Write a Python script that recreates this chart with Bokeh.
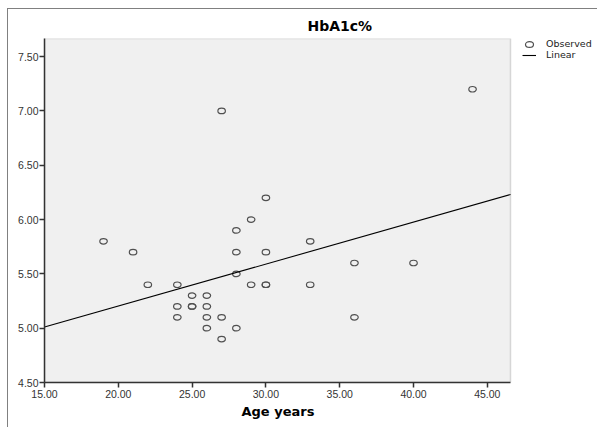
import numpy as np
from bokeh.plotting import figure
from bokeh.models import (Range1d, FixedTicker, PrintfTickFormatter, Legend, LegendItem,
                          ColumnDataSource, BoxAnnotation, Title)
from bokeh.embed import file_html
from bokeh.resources import INLINE

# Observed data (Age years vs HbA1c%)
age = [19, 21, 22, 24, 24, 24, 25, 25, 25, 26, 26, 26, 26, 27, 27, 27,
       28, 28, 28, 28, 29, 29, 30, 30, 30, 30, 33, 33, 36, 36, 40, 44]
hba1c = [5.8, 5.7, 5.4, 5.4, 5.2, 5.1, 5.3, 5.2, 5.2, 5.3, 5.2, 5.1, 5.0, 5.1, 4.9, 7.0,
         5.9, 5.7, 5.5, 5.0, 6.0, 5.4, 6.2, 5.7, 5.4, 5.4, 5.8, 5.4, 5.6, 5.1, 5.6, 7.2]
x_ticks = [15, 20, 25, 30, 35, 40, 45]
y_ticks = [4.5, 5.0, 5.5, 6.0, 6.5, 7.0, 7.5]

# axis extents of the shaded plotting area
X_START, X_END = 15, 46.57
Y_START, Y_END = 4.5, 7.667

# layout (pixels)
AREA_W = 466      # shaded area width
FRAME_W = 554     # full frame width (shaded area + legend zone)
x_view_end = X_START + (X_END - X_START) * FRAME_W / AREA_W

p = figure(width=590, height=419, output_backend="svg", toolbar_location=None,
           x_range=Range1d(X_START, x_view_end), y_range=Range1d(Y_START, Y_END),
           min_border_left=36, min_border_right=0, min_border_top=29, min_border_bottom=46)
p.styles = {"position": "relative", "top": "8px", "left": "7px",
            "border-top": "1px solid #808080", "border-left": "1px solid #808080"}

p.background_fill_color = "white"
p.border_fill_color = "white"
p.outline_line_color = None
p.grid.visible = False

area = BoxAnnotation(left=X_START, right=X_END, bottom=Y_START, top=Y_END,
                     fill_color="#f0f0f0", fill_alpha=1.0,
                     line_color="#8a8a8a", line_width=1.5, level="underlay")
p.add_layout(area)

p.title.text = "HbA1c%"
p.title.align = "left"
p.title.offset = 263
p.title.text_font = "DejaVu Sans"
p.title.text_font_style = "bold"
p.title.text_font_size = "14px"
p.title.text_color = "black"

for ax in (p.xaxis[0], p.yaxis[0]):
    ax.axis_line_color = "#333333"
    ax.axis_line_width = 1.5
    ax.major_tick_line_color = "#333333"
    ax.major_tick_line_width = 1.5
    ax.major_tick_in = 0
    ax.major_tick_out = 5
    ax.minor_tick_line_color = None
    ax.major_label_text_font = "Liberation Sans"
    ax.major_label_text_font_size = "10.5px"
    ax.major_label_text_color = "#333333"
    ax.formatter = PrintfTickFormatter(format="%.2f")

p.xaxis.bounds = (X_START, X_END)
p.yaxis.bounds = (Y_START, Y_END)
p.xaxis.ticker = FixedTicker(ticks=x_ticks)
p.yaxis.ticker = FixedTicker(ticks=y_ticks)
p.xaxis.major_label_standoff = 2
p.yaxis.major_label_standoff = 1

xlabel = Title(text="Age years", align="left", offset=197, standoff=3,
               text_font="DejaVu Sans", text_font_style="bold",
               text_font_size="13px", text_color="black")
p.add_layout(xlabel, "below")

src = ColumnDataSource(dict(x=age, y=hba1c))
obs = p.ellipse(x="x", y="y", width=7.5, height=5.5, width_units="screen", height_units="screen",
                source=src, fill_color=None, line_color="#505050", line_width=1.2)

slope, intercept = np.polyfit(age, hba1c, 1)
lx = [X_START, X_END]
ly = [intercept + slope * v for v in lx]
lin = p.line(lx, ly, line_color="black", line_width=1.1)

legend = Legend(items=[LegendItem(label="Observed", renderers=[obs]),
                       LegendItem(label="Linear", renderers=[lin])],
                location=(478, 322))
legend.background_fill_alpha = 0
legend.border_line_color = None
legend.padding = 0
legend.margin = 0
legend.spacing = 0
legend.glyph_width = 14
legend.glyph_height = 10
legend.label_height = 10
legend.label_standoff = 10
legend.label_text_font = "DejaVu Sans"
legend.label_text_font_size = "9.5px"
legend.label_text_color = "#222222"
p.add_layout(legend, "center")

open("out.html", "w").write(file_html(p, INLINE))
